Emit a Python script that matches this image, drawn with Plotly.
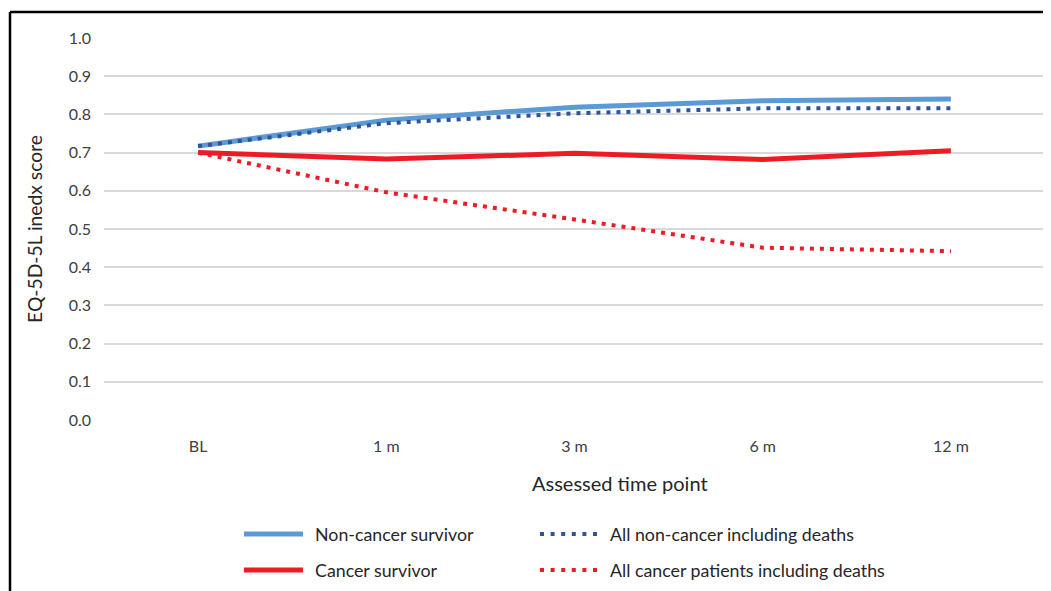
import plotly.graph_objects as go

categories = ["BL", "1 m", "3 m", "6 m", "12 m"]
non_cancer_survivor = [0.717, 0.785, 0.819, 0.836, 0.840]
all_non_cancer = [0.717, 0.777, 0.803, 0.816, 0.816]
cancer_survivor = [0.700, 0.683, 0.698, 0.682, 0.705]
all_cancer = [0.700, 0.596, 0.525, 0.451, 0.442]
y_ticks = [0.0, 0.1, 0.2, 0.3, 0.4, 0.5, 0.6, 0.7, 0.8, 0.9, 1.0]
series_names = ["Non-cancer survivor", "Cancer survivor",
                "All non-cancer including deaths", "All cancer patients including deaths"]

FONT = "Lato"
OFF = 8  # page body margin offset
W, H = 1051, 591
L, T = 104 - OFF, 38 - OFF
R = W - (1045 - OFF)
B = H - (420 - OFF)
pw, ph = W - L - R, H - T - B

def px_x(p):
    return (p - OFF - L) / pw

def px_y(p):
    return (H - B - (p - OFF)) / ph

styles = [
    dict(color="#5B9BD5", width=5),
    dict(color="#ED1C24", width=5),
    dict(color="#2F5597", width=4, dash="4px,6px"),
    dict(color="#ED1C24", width=4, dash="4px,6px"),
]
data = [non_cancer_survivor, cancer_survivor, all_non_cancer, all_cancer]

fig = go.Figure()
for name, vals, st in zip(series_names, data, styles):
    fig.add_trace(go.Scatter(x=categories, y=vals, mode="lines", name=name,
                             line=st, showlegend=False))

fig.update_layout(
    width=W, height=H,
    margin=dict(l=L, r=R, t=T, b=B, autoexpand=False),
    paper_bgcolor="white", plot_bgcolor="white",
    font=dict(family=FONT, size=16, color="#404040"),
    xaxis=dict(type="category", range=[-0.5, 4.5], showgrid=False, zeroline=False,
               showline=False, ticks="", ticklabelstandoff=15,
               tickfont=dict(family=FONT, size=16, color="#404040")),
    yaxis=dict(range=[0, 1.0], tickvals=y_ticks, tickformat=".1f",
               showgrid=True, gridcolor="#D9D9D9", gridwidth=1.5, zeroline=False,
               showline=False, ticks="", ticklabelstandoff=12,
               tickfont=dict(family=FONT, size=16, color="#404040"),
               title=dict(text="EQ-5D-5L inedx score", standoff=20,
                          font=dict(family=FONT, size=19.3, color="#262626"))),
)

# x-axis title (centred on chart area as in the reference)
fig.add_annotation(text="Assessed time point", xref="paper", yref="paper",
                   x=px_x(620), y=px_y(483), xanchor="center", yanchor="middle",
                   showarrow=False, font=dict(family=FONT, size=20, color="#262626"))

# legend (two columns)
legend_pos = [(244, 303, 313, 534), (244, 303, 313, 570),
              (540, 597, 608, 534), (540, 597, 608, 570)]
for name, st, (x0, x1, xt, yy) in zip(series_names, styles, legend_pos):
    fig.add_shape(type="line", xref="paper", yref="paper",
                  x0=px_x(x0), x1=px_x(x1), y0=px_y(yy), y1=px_y(yy),
                  line=dict(color=st["color"], width=st["width"],
                            dash=("4px,6.6px" if "dash" in st else "solid")))
    fig.add_annotation(text=name, xref="paper", yref="paper",
                       x=px_x(xt), y=px_y(yy), xanchor="left", yanchor="middle",
                       showarrow=False, font=dict(family=FONT, size=17.8, color="#262626"))

# outer frame (top and left edges visible)
fig.add_shape(type="line", xref="paper", yref="paper",
              x0=px_x(10), x1=px_x(1070), y0=px_y(12), y1=px_y(12),
              line=dict(color="black", width=2.5))
fig.add_shape(type="line", xref="paper", yref="paper",
              x0=px_x(10), x1=px_x(10), y0=px_y(12), y1=px_y(620),
              line=dict(color="black", width=2.5))

fig.write_html("out.html")
